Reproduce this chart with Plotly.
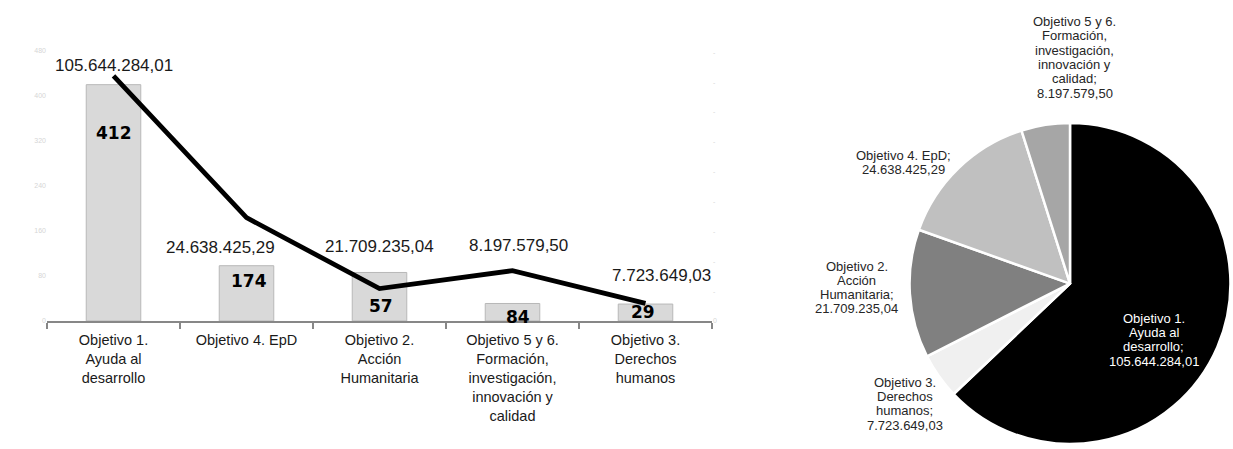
import math
import plotly.graph_objects as go

# ---------------- data ----------------
categorias = [
    "Objetivo 1.<br>Ayuda al<br>desarrollo",
    "Objetivo 4. EpD",
    "Objetivo 2.<br>Acción<br>Humanitaria",
    "Objetivo 5 y 6.<br>Formación,<br>investigación,<br>innovación y<br>calidad",
    "Objetivo 3.<br>Derechos<br>humanos",
]
# bar heights (left axis units)
barras_leidas = [419, 98, 86, 31, 30]
# printed bar labels (number of interventions)
n_intervenciones = [412, 174, 57, 84, 29]
# line heights (right axis, euros)
linea_leida = [106.7e6, 45.0e6, 14.1e6, 21.9e6, 7.7e6]
# printed amounts (euros)
importes = [105644284.01, 24638425.29, 21709235.04, 8197579.50, 7723649.03]

# pie (order drawn clockwise from 12 o'clock)
pie_etiquetas = [
    "Objetivo 1.<br>Ayuda al<br>desarrollo",
    "Objetivo 3.<br>Derechos<br>humanos",
    "Objetivo 2.<br>Acción<br>Humanitaria",
    "Objetivo 4. EpD",
    "Objetivo 5 y 6.<br>Formación,<br>investigación,<br>innovación y<br>calidad",
]
pie_importes = [105644284.01, 7723649.03, 21709235.04, 24638425.29, 8197579.50]

left_ticks = [0, 80, 160, 240, 320, 400, 480]
right_ticks = [i * 13e6 for i in range(10)]


def fmt_es(v):
    s = f"{v:,.2f}"
    return s.replace(",", "X").replace(".", ",").replace("X", ".")


# ---------------- styles ----------------
W, H = 1233, 449
FONT = "Liberation Sans, Arial, sans-serif"
BOLD = "DejaVu Sans, Verdana, sans-serif"
pie_colors = ["#000000", "#f0f0f0", "#808080", "#c0c0c0", "#a6a6a6"]
pie_text_colors = ["#ffffff", "#262626", "#262626", "#262626", "#262626"]
# (angle offset in degrees from slice mid-angle, radial factor) for pie labels
pie_label_style = [(11.0, 0.62), (-1.2, 1.26), (2.6, 1.31), (-9.6, 1.27), (10.0, 1.41)]
PIE_LINE_H = 14.3
line_shift = [(0, 10), (-26, -30), (0, 42), (6, 25), (16, 28)]
bar_shift = [(0, -48), (2, -15), (1, -34), (5, -14), (-3, -8)]

plot_top, plot_bot = 47, 322
x0, x1 = 47, 712
pie_cx, pie_cy, pie_r = 1070, 284, 163

fig = go.Figure()

fig.add_trace(go.Bar(
    x=categorias, y=barras_leidas, width=0.41,
    marker=dict(color="#d9d9d9", line=dict(color="#b8b8b8", width=1)),
    xaxis="x", yaxis="y", showlegend=False, hoverinfo="skip",
))
fig.add_trace(go.Scatter(
    x=categorias, y=linea_leida, mode="lines",
    line=dict(color="#000000", width=4.8),
    xaxis="x", yaxis="y2", showlegend=False, hoverinfo="skip",
))

annotations = []
for c, v, t, (dx, dy) in zip(categorias, linea_leida, importes, line_shift):
    annotations.append(dict(
        x=c, y=v, xref="x", yref="y2", text=fmt_es(t), showarrow=False,
        xshift=dx, yshift=dy, font=dict(family=FONT, size=17, color="#1a1a1a"),
    ))
for c, v, t, (dx, dy) in zip(categorias, barras_leidas, n_intervenciones, bar_shift):
    annotations.append(dict(
        x=c, y=v, xref="x", yref="y", text=f"<b>{t}</b>", showarrow=False,
        xshift=dx, yshift=dy, font=dict(family=BOLD, size=17, color="#000000"),
    ))

fig.add_trace(go.Pie(
    values=pie_importes, labels=[l.replace("<br>", " ") for l in pie_etiquetas],
    textinfo="none", sort=False, direction="clockwise", rotation=0,
    marker=dict(colors=pie_colors, line=dict(color="#ffffff", width=2.5)),
    domain=dict(x=[(pie_cx - pie_r) / W, 1.0],
                y=[(H - pie_cy - pie_r) / H, (H - pie_cy + pie_r) / H]),
    showlegend=False, hoverinfo="skip",
))

# pie labels placed around each slice's mid-angle
total = sum(pie_importes)
acc = 0.0
for lab, val, col, (da, k) in zip(pie_etiquetas, pie_importes, pie_text_colors, pie_label_style):
    mid = (acc + val / 2) / total * 360.0
    acc += val
    ang = math.radians(mid + da)
    px = pie_cx + k * pie_r * math.sin(ang)
    py = pie_cy - k * pie_r * math.cos(ang)
    lines = (lab + ";<br>" + fmt_es(val)).split("<br>")
    n = len(lines)
    for j, ln in enumerate(lines):
        annotations.append(dict(
            x=px / W, y=1 - py / H, xref="paper", yref="paper", text=ln,
            showarrow=False, xanchor="center", yanchor="middle",
            yshift=((n - 1) / 2 - j) * PIE_LINE_H,
            font=dict(family=FONT, size=13, color=col),
        ))

r_max_right = 13e6 * 9 * (plot_bot - plot_top) / (plot_bot - 49)

fig.update_layout(
    width=W, height=H, margin=dict(l=0, r=0, t=0, b=0),
    paper_bgcolor="#ffffff", plot_bgcolor="#ffffff",
    annotations=annotations,
    xaxis=dict(
        domain=[x0 / W, x1 / W], type="category", range=[-0.5, 4.5],
        showline=True, linecolor="#878787", linewidth=2,
        ticks="outside", tickson="boundaries", ticklen=6, tickwidth=2, tickcolor="#878787",
        ticklabelstandoff=5,
        tickfont=dict(family=FONT, size=14.5, color="#1a1a1a"),
        showgrid=False, zeroline=False, fixedrange=True,
    ),
    yaxis=dict(
        domain=[(H - plot_bot) / H, (H - plot_top) / H], range=[0, 480],
        tickvals=left_ticks, ticktext=[str(t) for t in left_ticks],
        tickfont=dict(family=FONT, size=7, color="#d6d6d6"),
        showgrid=False, zeroline=False, showline=False, ticks="",
    ),
    yaxis2=dict(
        overlaying="y", side="right", range=[0, r_max_right],
        tickvals=right_ticks, ticktext=["0"] + ["-" for _ in right_ticks[1:]],
        tickfont=dict(family=FONT, size=7, color="#d6d6d6"),
        showgrid=False, zeroline=False, showline=False, ticks="",
    ),
)

fig.write_html("out.html")
